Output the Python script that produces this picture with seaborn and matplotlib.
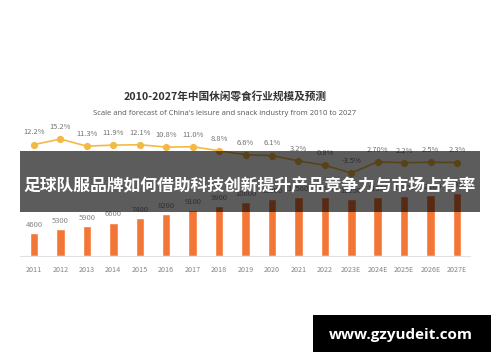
import numpy as np
import pandas as pd
import matplotlib
matplotlib.use("Agg")
import matplotlib.pyplot as plt
import seaborn as sns
from matplotlib.patches import Rectangle

# ---------------------- data ----------------------
years = ["2011", "2012", "2013", "2014", "2015", "2016", "2017", "2018", "2019",
         "2020", "2021", "2022", "2023E", "2024E", "2025E", "2026E", "2027E"]
scale = [4600, 5300, 5900, 6600, 7400, 8200, 9100, 9900, 10600,
         11200, 11560, 11650, 11250, 11550, 11800, 12100, 12380]
growth = [12.2, 15.2, 11.3, 11.9, 12.1, 10.8, 11.0, 8.8, 6.6,
          6.1, 3.2, 0.8, -3.5, 2.7, 2.2, 2.5, 2.3]
growth_text = ["12.2%", "15.2%", "11.3%", "11.9%", "12.1%", "10.8%", "11.0%", "8.8%", "6.6%",
               "6.1%", "3.2%", "0.8%", "-3.5%", "2.70%", "2.2%", "2.5%", "2.3%"]

title_cn = "2010-2027年中国休闲零食行业规模及预测"
title_en = "Scale and forecast of China's leisure and snack industry from 2010 to 2027"
banner = "足球队服品牌如何借助科技创新提升产品竞争力与市场占有率"
site = "www.gzyudeit.com"

BAR = "#f47636"
LINE = "#f4b944"
W, H = 500, 362

sns.set_style("white")
plt.rcParams["font.family"] = ["Noto Sans CJK SC", "DejaVu Sans"]

fig = plt.figure(figsize=(W / 100, H / 100), dpi=100)
fig.patch.set_facecolor("white")

# plot area in pixels: x 20..470, y 130..256 (from top)
left, right, top, bottom = 20, 470, 130, 256
ax = fig.add_axes([left / W, 1 - bottom / H, (right - left) / W, (bottom - top) / H])

df = pd.DataFrame({"year": years, "scale": scale, "growth": growth})
sns.barplot(data=df, x="year", y="scale", color=BAR, width=0.32, saturation=1, ax=ax)
ax.set_xlim(-0.53, 16.49)
ax.set_ylim(0, 24850)
for i, v in enumerate(scale):
    ax.annotate(str(v), (i, v), xytext=(0, 5.8), textcoords="offset points",
                ha="center", va="center", fontsize=5.5, color="#858585")

ax2 = ax.twinx()
sns.lineplot(x=np.arange(len(years)), y=growth, color=LINE, linewidth=1.2,
             marker="o", markersize=5.2, markeredgewidth=0, ax=ax2)
ax2.set_ylim(-49.1, 20.2)
ax2.set_xlim(-0.53, 16.49)
for i, (g, t) in enumerate(zip(growth, growth_text)):
    ax2.annotate(t, (i, g), xytext=(0, 8.8), textcoords="offset points",
                 ha="center", va="center", fontsize=5.4, color="#737373")

for a in (ax, ax2):
    a.set_xlabel("")
    a.set_ylabel("")
    a.set_yticks([])
    for s in a.spines.values():
        s.set_visible(False)
ax.spines["bottom"].set_visible(True)
ax.spines["bottom"].set_color("#e2e2e2")
ax.spines["bottom"].set_linewidth(0.8)
ax.tick_params(axis="x", length=0, pad=7, labelsize=5.2, labelcolor="#868686")
ax2.tick_params(axis="x", length=0, labelbottom=False)

# titles
fig.text(225 / W, 1 - 97 / H, title_cn, ha="center", va="center",
         fontsize=7.7, fontweight="bold", color="#333333")
fig.text(225 / W, 1 - 113.5 / H, title_en, ha="center", va="center",
         fontsize=5.5, color="#555555", family=["Open Sans", "DejaVu Sans"])

# overlay banner
fig.patches.append(Rectangle((20 / W, 1 - 212 / H), 460 / W, 61 / H,
                             transform=fig.transFigure, facecolor="black",
                             alpha=0.64, edgecolor="none", zorder=5))
fig.text(250 / W, 1 - 186.5 / H, banner, ha="center", va="center", fontsize=12.1,
         fontweight="bold", color="white", zorder=6)

# site watermark
fig.patches.append(Rectangle((313 / W, 1 - 352 / H), 178 / W, 37 / H,
                             transform=fig.transFigure, facecolor="black",
                             edgecolor="none", zorder=5))
fig.text(401 / W, 1 - 335 / H, site, ha="center", va="center", fontsize=11,
         fontweight="bold", color="white", zorder=6, family=["Open Sans", "DejaVu Sans"])

fig.savefig("out.png", dpi=100, facecolor="white")
